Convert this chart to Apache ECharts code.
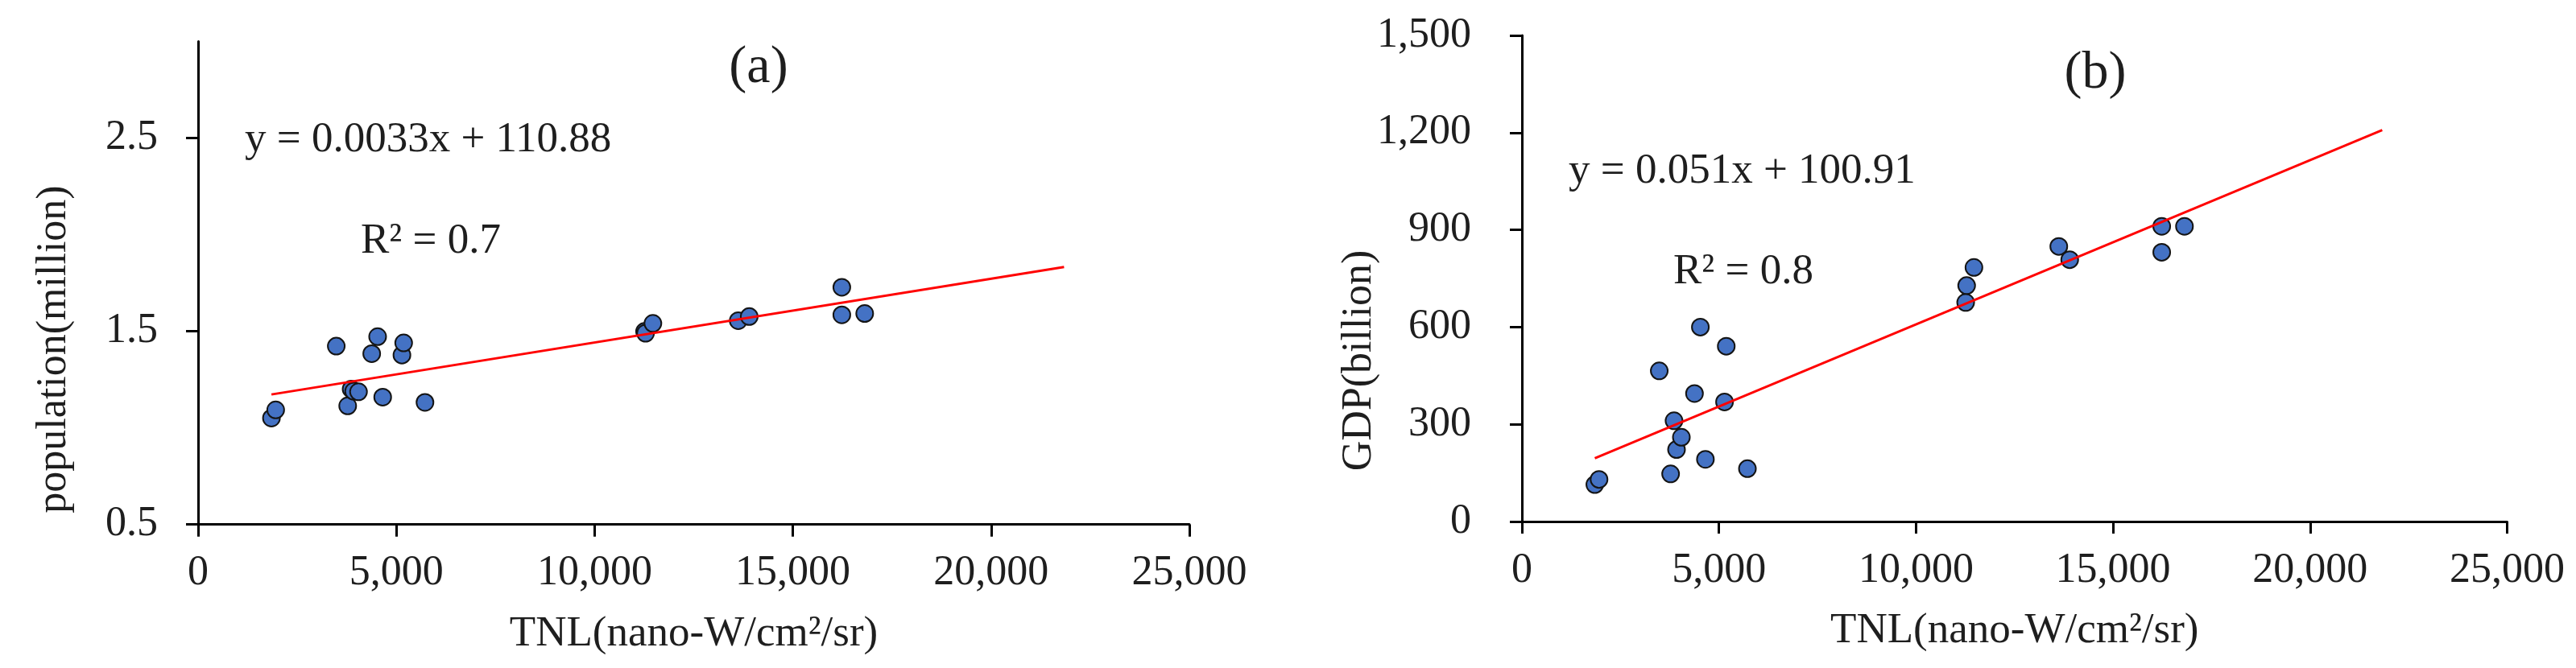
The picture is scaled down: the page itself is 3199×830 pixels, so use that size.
<!DOCTYPE html>
<html><head><meta charset="utf-8">
<script src="https://cdn.jsdelivr.net/npm/echarts@6/dist/echarts.min.js"></script>
<style>html,body{margin:0;padding:0;background:#fff}#c{width:3199px;height:830px}</style>
</head><body><div id="c"></div>
<script>
// ---- data ----
const tnl = [1850, 1957, 3485, 3773, 3860, 3923, 4046, 4379, 4528, 4656, 5141, 5185, 5722, 11260, 11285, 11470, 13623, 13900, 16235, 16235, 16812];
const population = [1.051, 1.093, 1.423, 1.114, 1.201, 1.19, 1.187, 1.384, 1.472, 1.159, 1.377, 1.440, 1.132, 1.499, 1.49, 1.541, 1.555, 1.576, 1.728, 1.585, 1.592];
const gdp = [114, 130, 465, 147, 311, 222, 260, 395, 600, 192, 369, 541, 163, 676, 728, 784, 849, 808, 911, 831, 911];
const popTrendX = [1850, 21840];
const popTrendY = [1.173, 1.833];
const gdpTrendX = [1850, 21830];
const gdpTrendY = [195, 1208];
const xTicks = [0, 5000, 10000, 15000, 20000, 25000];
const popTicks = [0.5, 1.5, 2.5];
const gdpTicks = [0, 300, 600, 900, 1200, 1500];
const labelsA = ['(a)', 'y = 0.0033x + 110.88', 'R² = 0.7', 'population(million)'];
const labelsB = ['(b)', 'y = 0.051x + 100.91', 'R² = 0.8', 'GDP(billion)'];
const xName = 'TNL(nano-W/cm²/sr)';

// ---- chart ----
const FONT = '"Liberation Serif", "Times New Roman", serif';
const TXT = '#1e1e1e';
const fmtThousands = v => Number(v).toLocaleString('en-US');
const lineStyle = {color: '#000', width: 3};

function xAxisCfg(gridIndex) {
  return {
    type: 'value', gridIndex, min: xTicks[0], max: xTicks[xTicks.length - 1], interval: xTicks[1] - xTicks[0],
    name: xName, nameLocation: 'middle', nameGap: 110,
    nameTextStyle: {fontFamily: FONT, fontSize: 53, color: TXT},
    axisLine: {show: true, onZero: false, lineStyle},
    axisTick: {show: true, inside: false, length: 15, lineStyle},
    axisLabel: {margin: 35, fontFamily: FONT, fontSize: 52, color: TXT, formatter: fmtThousands},
    splitLine: {show: false}
  };
}

const option = {
  animation: false,
  backgroundColor: '#ffffff',
  grid: [
    {left: 246, top: 51.5, width: 1231, height: 600.2, containLabel: false, outerBoundsMode: 'none'},
    {left: 1890, top: 44, width: 1223.5, height: 604, containLabel: false, outerBoundsMode: 'none'}
  ],
  xAxis: [xAxisCfg(0), xAxisCfg(1)],
  yAxis: [
    {
      type: 'value', gridIndex: 0, min: 0.5, max: 3, interval: 0.5,
      axisLine: {show: true, onZero: false, lineStyle},
      axisTick: {show: true, length: 15, lineStyle, customValues: popTicks},
      axisLabel: {margin: 50, fontFamily: FONT, fontSize: 52, color: TXT, customValues: popTicks,
        formatter: v => Number(v).toFixed(1)},
      splitLine: {show: false}
    },
    {
      type: 'value', gridIndex: 1, min: gdpTicks[0], max: gdpTicks[gdpTicks.length - 1], interval: gdpTicks[1] - gdpTicks[0],
      axisLine: {show: true, onZero: false, lineStyle},
      axisTick: {show: true, length: 15, lineStyle},
      axisLabel: {margin: 63, fontFamily: FONT, fontSize: 52, color: TXT, formatter: fmtThousands},
      splitLine: {show: false}
    }
  ],
  series: [
    {
      type: 'scatter', xAxisIndex: 0, yAxisIndex: 0, z: 2,
      data: tnl.map((x, i) => [x, population[i]]),
      symbol: 'circle', symbolSize: 21,
      itemStyle: {color: '#4472C4', borderColor: '#141414', borderWidth: 2, opacity: 1}
    },
    {
      type: 'line', xAxisIndex: 0, yAxisIndex: 0, z: 3,
      data: popTrendX.map((x, i) => [x, popTrendY[i]]),
      showSymbol: false, symbol: 'none',
      lineStyle: {color: '#FF0000', width: 3}
    },
    {
      type: 'scatter', xAxisIndex: 1, yAxisIndex: 1, z: 2,
      data: tnl.map((x, i) => [x, gdp[i]]),
      symbol: 'circle', symbolSize: 21,
      itemStyle: {color: '#4472C4', borderColor: '#141414', borderWidth: 2, opacity: 1}
    },
    {
      type: 'line', xAxisIndex: 1, yAxisIndex: 1, z: 3,
      data: gdpTrendX.map((x, i) => [x, gdpTrendY[i]]),
      showSymbol: false, symbol: 'none',
      lineStyle: {color: '#FF0000', width: 3}
    }
  ],
  graphic: [
    {type: 'text', x: 942, y: 85, style: {text: labelsA[0], fontFamily: FONT, fontSize: 66, fill: TXT, align: 'center', verticalAlign: 'middle'}},
    {type: 'text', x: 304, y: 174, style: {text: labelsA[1], fontFamily: FONT, fontSize: 53, fill: TXT, align: 'left', verticalAlign: 'middle'}},
    {type: 'text', x: 448, y: 300, style: {text: labelsA[2], fontFamily: FONT, fontSize: 53, fill: TXT, align: 'left', verticalAlign: 'middle'}},
    {type: 'text', x: 67, y: 434, rotation: Math.PI / 2, style: {text: labelsA[3], fontFamily: FONT, fontSize: 52, fill: TXT, align: 'center', verticalAlign: 'middle'}},
    {type: 'text', x: 2602, y: 92, style: {text: labelsB[0], fontFamily: FONT, fontSize: 66, fill: TXT, align: 'center', verticalAlign: 'middle'}},
    {type: 'text', x: 1948, y: 213, style: {text: labelsB[1], fontFamily: FONT, fontSize: 53, fill: TXT, align: 'left', verticalAlign: 'middle'}},
    {type: 'text', x: 2078, y: 338, style: {text: labelsB[2], fontFamily: FONT, fontSize: 53, fill: TXT, align: 'left', verticalAlign: 'middle'}},
    {type: 'text', x: 1688, y: 448, rotation: Math.PI / 2, style: {text: labelsB[3], fontFamily: FONT, fontSize: 52, fill: TXT, align: 'center', verticalAlign: 'middle'}}
  ]
};

const chart = echarts.init(document.getElementById('c'), null, {renderer: 'canvas', width: 3199, height: 830});
chart.setOption(option);
</script>
</body></html>
